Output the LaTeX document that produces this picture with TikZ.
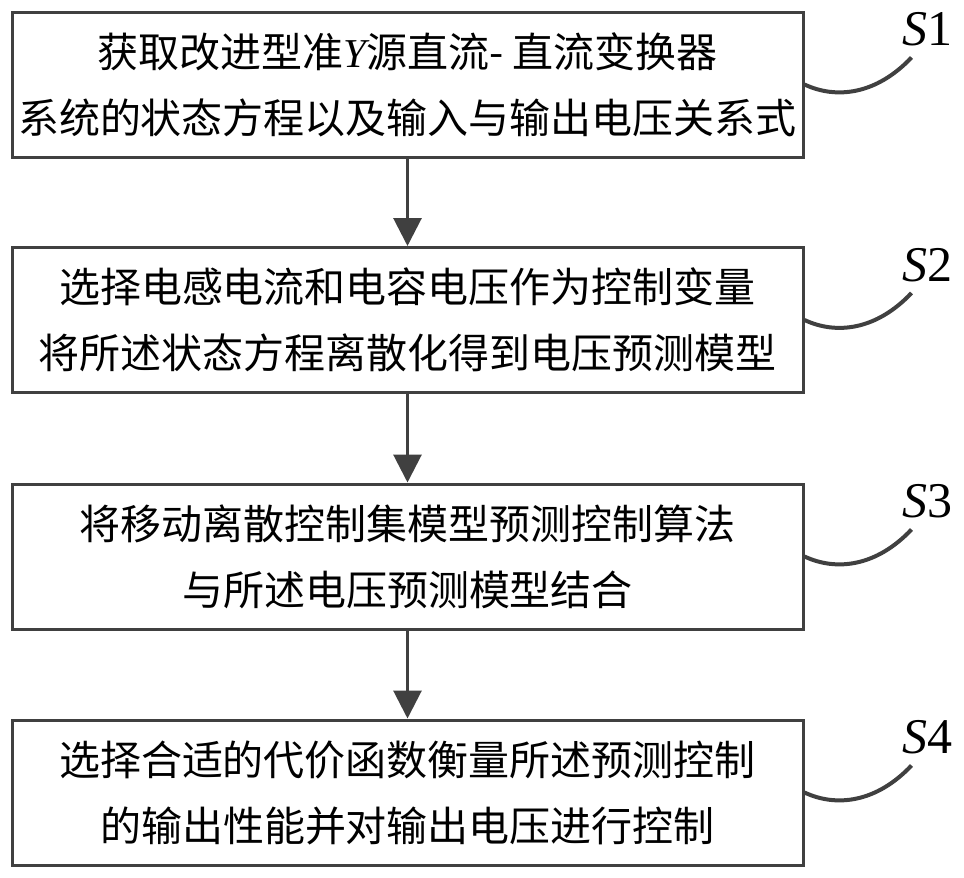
\documentclass[tikz,border=0pt]{standalone}
\usepackage{fontspec}
\newfontfamily\cjk{Noto Sans CJK SC}
\newfontfamily\tnr{Liberation Serif}
\usetikzlibrary{arrows.meta,calc}
\definecolor{ln}{HTML}{404040}
\begin{document}
\begin{tikzpicture}[x=1pt,y=-1pt,
 box/.style={draw=ln,line width=3pt,minimum width=791pt,minimum height=145pt,inner sep=0pt,align=center,font=\cjk\fontsize{41}{66}\selectfont},
 flow/.style={draw=ln,line width=3pt,-{Triangle[width=28pt,length=28pt]}},
 lead/.style={draw=ln,line width=4pt},
 lbl/.style={font=\tnr\fontsize{50}{50}\selectfont,inner sep=0pt}]
\useasboundingbox[fill=white] (0,0) rectangle (964,878);
\node[box] (b1) at (407.5,84.5) {获取改进型准{\tnr\itshape Y}源直流- 直流变换器\\系统的状态方程以及输入与输出电压关系式};
\node[box] (b2) at (407.5,320) {选择电感电流和电容电压作为控制变量\\将所述状态方程离散化得到电压预测模型};
\node[box] (b3) at (407.5,556.5) {将移动离散控制集模型预测控制算法\\与所述电压预测模型结合};
\node[box] (b4) at (407.5,792.5) {选择合适的代价函数衡量所述预测控制\\的输出性能并对输出电压进行控制};
\draw[flow] (b1.south) -- (b2.north);
\draw[flow] (b2.south) -- (b3.north);
\draw[flow] (b3.south) -- (b4.north);
\foreach \i/\d in {1/1,2/2,3/3,4/4}{
  \coordinate (e\i) at ($(b\i.east)+(107,-27)$);
  \node[lbl] (s\i) at ($(b\i.east)+(123,-55)$) {\textit{S}\d};
  \draw[lead] (b\i.east) .. controls ($(b\i.east)+(32,15)$) and ($(b\i.east)+(72,10)$) .. (e\i);
}
\end{tikzpicture}
\end{document}
